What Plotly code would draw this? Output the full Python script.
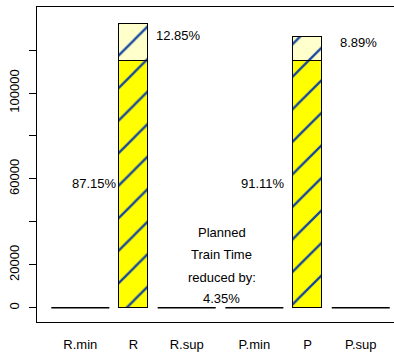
import plotly.graph_objects as go

# ---- data ----
categories = ["R.min", "R", "R.sup", "P.min", "P", "P.sup"]
base_values = [0, 115040, 0, 0, 115040, 0]      # planned train time part
extra_values = [0, 16960, 0, 0, 11220, 0]       # additional part
bar_widths = [2, 1, 2, 2, 1, 2]
base_pct_labels = ["", "87.15%", "", "", "91.11%", ""]
extra_pct_labels = ["", "12.85%", "", "", "8.89%", ""]
note_lines = ["Planned", "Train Time", "reduced by:", "4.35%"]
y_tickvals = [0, 20000, 40000, 60000, 80000, 100000, 120000]
y_ticktext = ["0", "20000", "", "60000", "", "100000", ""]

# ---- bar positions (R barplot style: space = 0.2 * mean width) ----
space = 0.2 * sum(bar_widths) / len(bar_widths)
positions = []
cur = 0.0
for w in bar_widths:
    cur += space
    positions.append(cur + w / 2)
    cur += w

FONT = "Liberation Sans, Arial, Helvetica, sans-serif"
YELLOW = "#FFFF00"
LIGHT = "#FFFFCC"
HATCH = "#1446A0"

fig = go.Figure()

nz = [i for i in range(len(categories)) if base_values[i] + extra_values[i] > 0]

for vals, col in ((base_values, YELLOW), (extra_values, LIGHT)):
    fig.add_trace(go.Bar(
        x=[positions[i] for i in nz], y=[vals[i] for i in nz],
        width=[bar_widths[i] for i in nz],
        marker=dict(color=col, line=dict(color="black", width=1),
                    pattern=dict(shape="/", fgcolor=HATCH, bgcolor=col,
                                 fgopacity=1, size=23, solidity=0.1,
                                 fillmode="replace")),
        showlegend=False, hoverinfo="skip"))

# zero-height bars drawn as their outline (a flat line)
for i in range(len(categories)):
    if base_values[i] + extra_values[i] == 0:
        fig.add_trace(go.Scatter(
            x=[positions[i] - bar_widths[i] / 2, positions[i] + bar_widths[i] / 2],
            y=[base_values[i], base_values[i]],
            mode="lines", line=dict(color="black", width=1.5),
            showlegend=False, hoverinfo="skip"))

ann = []
base_offsets = {1: 0.0, 4: 0.2}
for i in nz:
    ann.append(dict(x=positions[i] - bar_widths[i] / 2 - base_offsets[i], y=base_values[i] / 2 + 500,
                    text=base_pct_labels[i], xanchor="right", yanchor="middle",
                    showarrow=False, font=dict(size=13, color="black", family=FONT)))
extra_offsets = {1: 0.2, 4: 0.55}
extra_y = {1: 127000, 4: 123700}
for i in nz:
    ann.append(dict(x=positions[i] + bar_widths[i] / 2 + extra_offsets[i], y=extra_y[i],
                    text=extra_pct_labels[i], xanchor="left", yanchor="middle",
                    showarrow=False, font=dict(size=13, color="black", family=FONT)))
note_x = (positions[2] + bar_widths[2] / 2 + positions[3] - bar_widths[3] / 2) / 2 + 0.05
note_y = [34800, 24550, 14300, 4520]
for t, yy in zip(note_lines, note_y):
    ann.append(dict(x=note_x, y=yy, text=t, xanchor="center", yanchor="middle",
                    showarrow=False, font=dict(size=13, color="black", family=FONT)))

fig.update_layout(
    width=394, height=353,
    margin=dict(l=37, r=0, t=7, b=31),
    paper_bgcolor="white", plot_bgcolor="white",
    barmode="stack", bargap=0,
    annotations=ann,
    font=dict(family=FONT, size=13, color="black"),
    xaxis=dict(range=[-0.16, 12.146], showgrid=False, zeroline=False,
               showline=True, mirror=True, linecolor="black", linewidth=1,
               tickvals=positions, ticktext=categories,
               ticks="outside", ticklen=10, tickcolor="rgba(0,0,0,0)",
               tickfont=dict(size=13, color="black", family=FONT)),
    yaxis=dict(range=[-6660, 140055], showgrid=False, zeroline=False,
               showline=True, linecolor="black", linewidth=1,
               tickvals=y_tickvals, ticktext=y_ticktext,
               ticks="outside", ticklen=7, tickcolor="black",
               tickangle=-90, ticklabelstandoff=5,
               tickfont=dict(size=13, color="black", family=FONT)),
)

fig.write_html("out.html")
